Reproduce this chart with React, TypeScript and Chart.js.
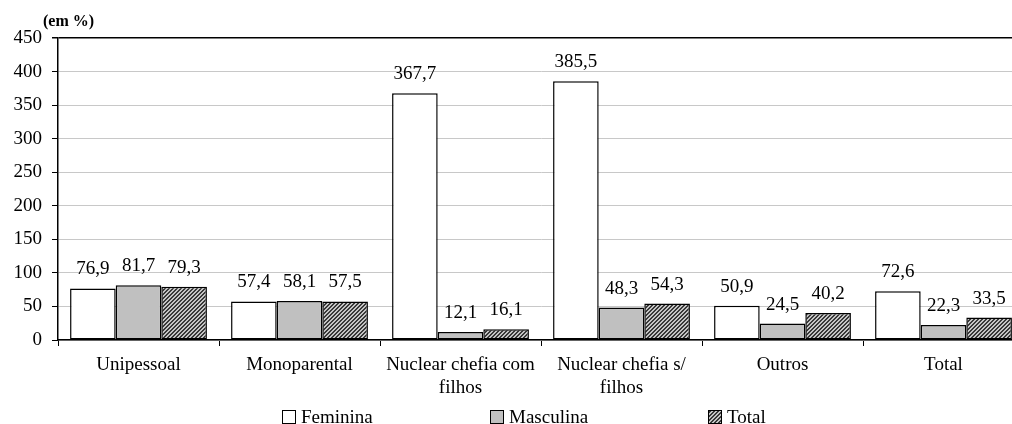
import React, { useEffect, useRef } from "react";
import { Chart, registerables } from "chart.js";

Chart.register(...registerables);

const categories: string[][] = [
  ["Unipessoal"],
  ["Monoparental"],
  ["Nuclear chefia com", "filhos"],
  ["Nuclear chefia s/", "filhos"],
  ["Outros"],
  ["Total"],
];
const seriesNames = ["Feminina", "Masculina", "Total"];
const feminina = [76.9, 57.4, 367.7, 385.5, 50.9, 72.6];
const masculina = [81.7, 58.1, 12.1, 48.3, 24.5, 22.3];
const total = [79.3, 57.5, 16.1, 54.3, 40.2, 33.5];
const yMax = 450;
const yStep = 50;
const unitLabel = "(em %)";

const FONT = '"Liberation Serif", "Times New Roman", serif';

function makeHatch(): CanvasPattern | string {
  const c = document.createElement("canvas");
  const n = 4;
  c.width = n;
  c.height = n;
  const g = c.getContext("2d");
  if (!g) return "#888";
  const img = g.createImageData(n, n);
  for (let y = 0; y < n; y++) {
    for (let x = 0; x < n; x++) {
      const dark = (x + y) % 4 < 2;
      const v = dark ? 0x38 : 0xc4;
      const k = (y * n + x) * 4;
      img.data[k] = v;
      img.data[k + 1] = v;
      img.data[k + 2] = v;
      img.data[k + 3] = 255;
    }
  }
  g.putImageData(img, 0, 0);
  const p = g.createPattern(c, "repeat");
  return p || "#888";
}

export default function App() {
  const ref = useRef<HTMLCanvasElement | null>(null);

  useEffect(() => {
    const canvas = ref.current;
    if (!canvas) return;
    const hatch = makeHatch();
    const fills: (string | CanvasPattern)[] = ["#ffffff", "#c0c0c0", hatch];

    const labelsPlugin = {
      id: "valueLabels",
      afterDatasetsDraw(chart: any) {
        const ctx = chart.ctx;
        ctx.save();
        ctx.font = `19px ${FONT}`;
        ctx.fillStyle = "#000";
        ctx.textAlign = "center";
        ctx.textBaseline = "alphabetic";
        chart.data.datasets.forEach((ds: any, i: number) => {
          const meta = chart.getDatasetMeta(i);
          meta.data.forEach((el: any, j: number) => {
            const v = ds.data[j] as number;
            ctx.fillText(v.toFixed(1).replace(".", ","), el.x, el.y - 14);
          });
        });
        ctx.restore();
      },
    };

    const extrasPlugin = {
      id: "extras",
      afterDraw(chart: any) {
        const ctx = chart.ctx;
        const area = chart.chartArea;
        ctx.save();
        ctx.font = `bold 16px ${FONT}`;
        ctx.fillStyle = "#000";
        ctx.textAlign = "left";
        ctx.textBaseline = "alphabetic";
        ctx.fillText(unitLabel, area.left - 15, area.top - 12);
        const xs = [282, 490, 708];
        const box = 13;
        const boxTop = 410;
        ctx.font = `19px ${FONT}`;
        seriesNames.forEach((name, i) => {
          ctx.fillStyle = fills[i] as any;
          ctx.fillRect(xs[i], boxTop, box, box);
          ctx.strokeStyle = "#000";
          ctx.lineWidth = 1;
          ctx.strokeRect(xs[i] + 0.5, boxTop + 0.5, box, box);
          ctx.fillStyle = "#000";
          ctx.fillText(name, xs[i] + 19, 423);
        });
        ctx.restore();
      },
    };

    const chart = new Chart(canvas, {
      type: "bar",
      data: {
        labels: categories,
        datasets: [
          { label: seriesNames[0], data: feminina, backgroundColor: fills[0] as any },
          { label: seriesNames[1], data: masculina, backgroundColor: fills[1] as any },
          { label: seriesNames[2], data: total, backgroundColor: fills[2] as any },
        ].map((d) => ({
          ...d,
          borderColor: "#000",
          borderWidth: 1.5,
          borderSkipped: false,
          categoryPercentage: 0.85,
          barPercentage: 1.0,
        })),
      },
      options: {
        responsive: false,
        animation: false,
        layout: { padding: { top: 38, left: 0, right: 6, bottom: 0 } },
        plugins: {
          legend: { display: false },
          tooltip: { enabled: false },
          title: { display: false },
        },
        scales: {
          x: {
            grid: {
              display: true,
              drawOnChartArea: false,
              drawTicks: true,
              tickLength: 6,
              tickColor: "#000",
              offset: true,
            },
            border: { display: true, color: "#000", width: 1.5 },
            ticks: {
              color: "#000",
              font: { family: FONT, size: 19 },
              padding: 8,
              maxRotation: 0,
              autoSkip: false,
            },
            afterFit: (scale: any) => {
              scale.height = 84;
            },
          },
          y: {
            min: 0,
            max: yMax,
            ticks: {
              stepSize: yStep,
              color: "#000",
              font: { family: FONT, size: 19 },
              padding: 10,
            },
            grid: {
              color: (c: any) => (c.tick && c.tick.value === yMax ? "#000" : "#c8c8c8"),
              lineWidth: (c: any) => (c.tick && c.tick.value === yMax ? 1.5 : 1),
              tickColor: "#000",
              tickLength: 6,
              drawTicks: true,
            },
            border: { display: true, color: "#000", width: 1.5 },
            afterFit: (scale: any) => {
              scale.width = 58;
            },
          },
        },
      },
      plugins: [labelsPlugin, extrasPlugin],
    });
    return () => chart.destroy();
  }, []);

  return (
    <div
      style={{
        position: "fixed",
        left: 0,
        top: 0,
        width: 1012,
        height: 424,
        overflow: "hidden",
        background: "#fff",
      }}
    >
      <canvas ref={ref} width={1030} height={424} style={{ display: "block" }} />
    </div>
  );
}
